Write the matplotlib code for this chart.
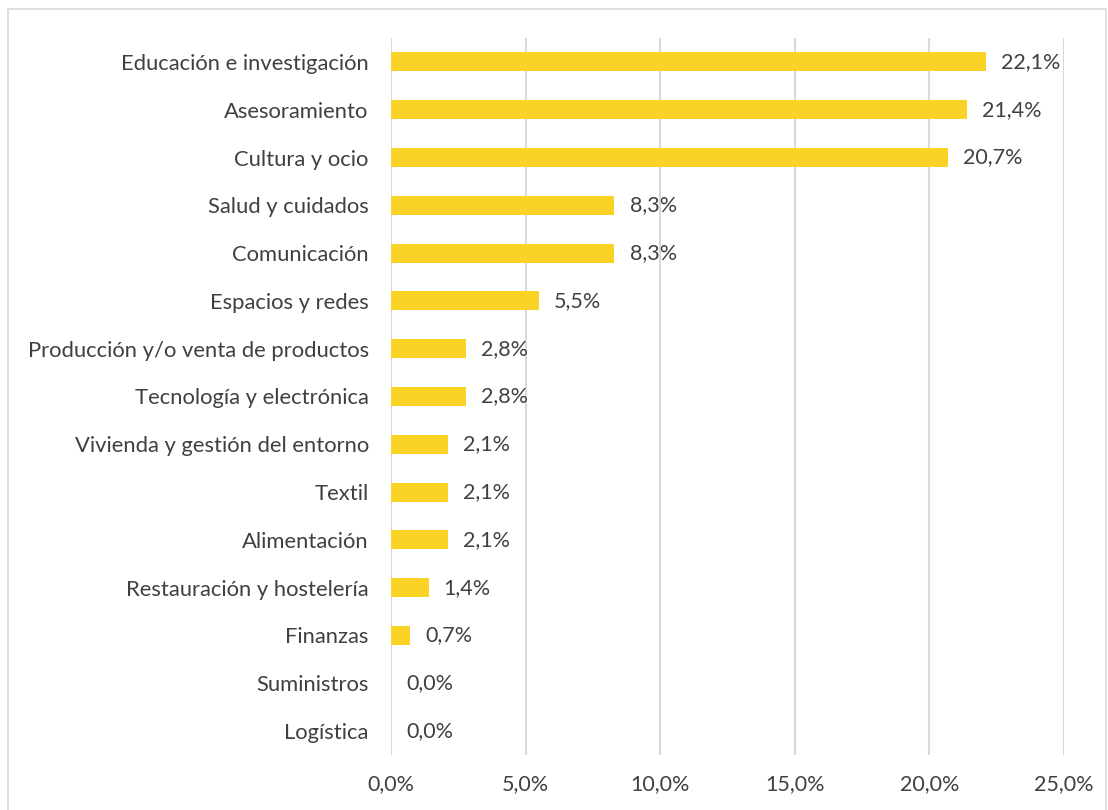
import numpy as np
import matplotlib.pyplot as plt
from matplotlib.patches import Rectangle

# Datos
categorias = ["Educación e investigación", "Asesoramiento", "Cultura y ocio",
              "Salud y cuidados", "Comunicación", "Espacios y redes",
              "Producción y/o venta de productos", "Tecnología y electrónica",
              "Vivienda y gestión del entorno", "Textil", "Alimentación",
              "Restauración y hostelería", "Finanzas", "Suministros", "Logística"]
valores = [22.1, 21.4, 20.7, 8.3, 8.3, 5.5, 2.8, 2.8, 2.1, 2.1, 2.1, 1.4, 0.7, 0.0, 0.0]
xticks = [0, 5, 10, 15, 20, 25]

plt.rcParams['font.family'] = ['Lato', 'DejaVu Sans']
txt = '#404040'
fs = 15.8
fs_val = 15.5

fig = plt.figure(figsize=(11.08, 8.10), dpi=100)
ax = fig.add_axes([391/1108, 1-755/810, 673/1108, 717/810])

# marco exterior
fig.patches.append(Rectangle((8/1108, -0.01), 1098/1108, 1-9/810+0.01,
                             transform=fig.transFigure, fill=False,
                             edgecolor='#d9d9d9', lw=1.2))

y = np.arange(len(categorias))
ax.barh(y, valores, height=0.4, color='#fad326', zorder=3)
for yi, v in zip(y, valores):
    ax.text(v + 0.56, yi, f"{v:.1f}%".replace('.', ','), va='center', ha='left',
            fontsize=fs_val, color=txt)

ax.set_ylim(len(categorias) - 0.5, -0.5)
ax.set_yticks(y)
ax.set_yticklabels(categorias)
ax.set_xlim(0, 25)
ax.set_xticks(xticks)
ax.set_xticklabels([f"{t:.1f}%".replace('.', ',') for t in xticks], fontsize=fs_val)
ax.tick_params(axis='both', length=0, labelcolor=txt)
ax.tick_params(axis='y', pad=16, labelsize=fs)
ax.tick_params(axis='x', pad=14)
ax.grid(axis='x', color='#d9d9d9', lw=1.5, zorder=0)
for s in ax.spines.values():
    s.set_visible(False)

fig.savefig('out.png', dpi=100)
